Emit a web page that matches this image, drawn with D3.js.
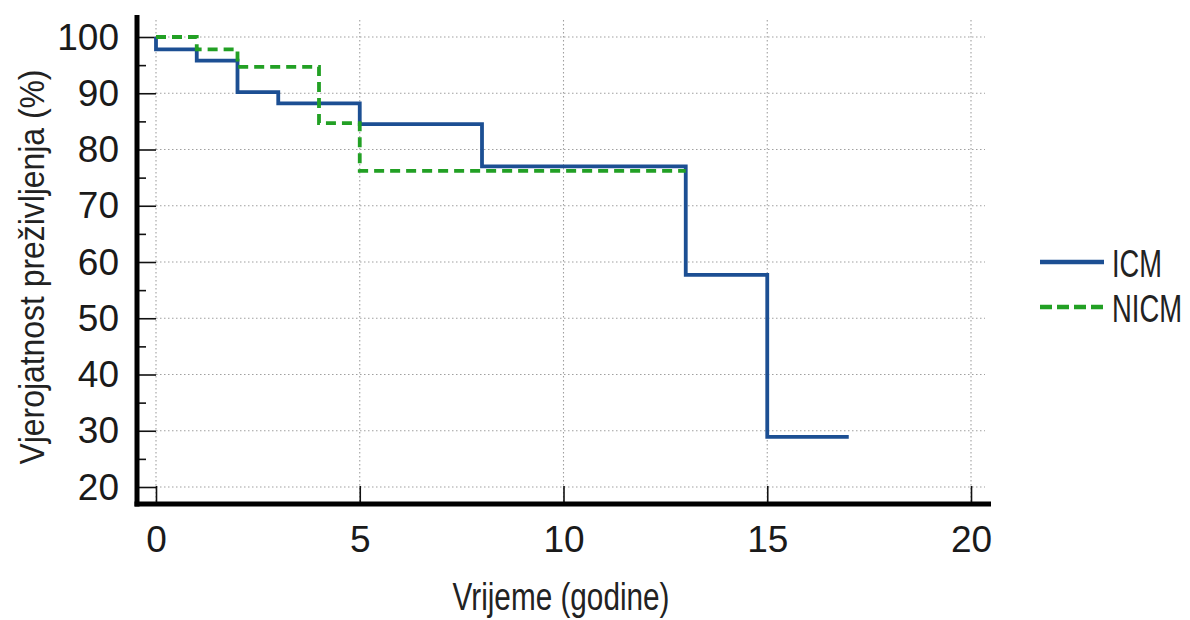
<!DOCTYPE html>
<html>
<head>
<meta charset="utf-8">
<script src="https://cdn.jsdelivr.net/npm/d3@7"></script>
<style>
  html, body { margin: 0; padding: 0; background: #fff; }
  svg { display: block; font-family: "Liberation Sans", Arial, sans-serif; }
</style>
</head>
<body>
<svg id="chart" width="1190" height="620"></svg>
<script>
// ---- data ----
const icmTimes = [0, 0, 1, 2, 3, 5, 8, 13, 15, 17];
const icmSurvival = [100, 97.8, 95.8, 90.2, 88.2, 84.5, 77.0, 57.7, 28.9, 28.9];
const nicmTimes = [0, 1, 2, 4, 5, 13];
const nicmSurvival = [100, 97.8, 94.7, 84.7, 76.2, 76.2];
const xTicks = [0, 5, 10, 15, 20];
const yTicks = [20, 30, 40, 50, 60, 70, 80, 90, 100];
const yMinorTicks = [25, 35, 45, 55, 65, 75, 85, 95];
const seriesNames = ["ICM", "NICM"];
const xTitle = "Vrijeme (godine)";
const yTitle = "Vjerojatnost preživljenja (%)";

// ---- layout ----
const svg = d3.select("#chart");
const x = d3.scaleLinear().domain([0, 20]).range([156, 971]);
const y = d3.scaleLinear().domain([20, 100]).range([487, 37]);
const axisX0 = 137, axisY0 = 504, plotTop = 15, plotRight = 991;
const blue = "#1c4f93", green = "#22a024";

// grid
const grid = svg.append("g").attr("stroke", "#a0a0a0").attr("stroke-width", 1.1)
  .attr("stroke-dasharray", "1.5,2.5");
grid.selectAll("line.h").data(yTicks).join("line").attr("class", "h")
  .attr("x1", x(0)).attr("x2", 985).attr("y1", d => y(d)).attr("y2", d => y(d));
grid.selectAll("line.v").data(xTicks).join("line").attr("class", "v")
  .attr("x1", d => x(d)).attr("x2", d => x(d)).attr("y1", 20).attr("y2", axisY0);

// y ticks (inward)
const yMaj = svg.append("g").attr("transform", `translate(${axisX0},0)`)
  .call(d3.axisRight(y).tickValues(yTicks).tickSize(x(0) - axisX0).tickFormat(""));
const yMin = svg.append("g").attr("transform", `translate(${axisX0},0)`)
  .call(d3.axisRight(y).tickValues(yMinorTicks).tickSize(9).tickFormat(""));
const yLab = svg.append("g").attr("transform", `translate(${axisX0},0)`)
  .call(d3.axisLeft(y).tickValues(yTicks).tickSize(0).tickPadding(18));
// x ticks (inward)
const xMaj = svg.append("g").attr("transform", `translate(0,${axisY0})`)
  .call(d3.axisTop(x).tickValues(xTicks).tickSize(18).tickFormat(""));
const xLab = svg.append("g").attr("transform", `translate(0,${axisY0})`)
  .call(d3.axisBottom(x).tickValues(xTicks).tickSize(0).tickPadding(22));

[yMaj, yMin, yLab, xMaj, xLab].forEach(g => {
  g.select(".domain").remove();
  g.selectAll(".tick line").attr("stroke", "#111").attr("stroke-width", 1.6);
});
yLab.selectAll("text").attr("font-size", 37).attr("fill", "#1a1a1a")
  .attr("font-family", "Liberation Sans, Arial, sans-serif").attr("dy", "0.33em");
xLab.selectAll("text").attr("font-size", 37).attr("fill", "#1a1a1a")
  .attr("font-family", "Liberation Sans, Arial, sans-serif").attr("dy", "0.7em");

// axis lines
svg.append("line").attr("x1", axisX0).attr("x2", axisX0).attr("y1", plotTop).attr("y2", axisY0 + 2.5)
  .attr("stroke", "#000").attr("stroke-width", 5);
svg.append("line").attr("x1", axisX0 - 2.5).attr("x2", plotRight).attr("y1", axisY0).attr("y2", axisY0)
  .attr("stroke", "#000").attr("stroke-width", 5);

// survival curves
const line = d3.line().x(d => x(d[0])).y(d => y(d[1])).curve(d3.curveStepAfter);
const nicmData = nicmTimes.map((t, i) => [t, nicmSurvival[i]]);
const icmData = icmTimes.map((t, i) => [t, icmSurvival[i]]);
svg.append("path").datum(icmData).attr("d", line).attr("fill", "none")
  .attr("stroke", blue).attr("stroke-width", 3.8);
svg.append("path").datum(nicmData).attr("d", line).attr("fill", "none")
  .attr("stroke", green).attr("stroke-width", 3.8).attr("stroke-dasharray", "10,6");

// condensed text helper: fit text to a target width via horizontal scale
function narrowText(parent, txt, size, width, anchor, tx, ty, rot) {
  const g = parent.append("g");
  const t = g.append("text").attr("font-size", size).attr("fill", "#222")
    .attr("text-anchor", anchor).text(txt);
  const natural = t.node().getComputedTextLength();
  const s = width / natural;
  g.attr("transform", `translate(${tx},${ty})` + (rot ? ` rotate(${rot})` : "") + ` scale(${s},1)`);
  return g;
}

// axis titles
narrowText(svg, xTitle, 38, 217, "middle", 561, 610, 0);
narrowText(svg, yTitle, 35, 395, "middle", 44, 267, -90);

// legend
const legY = [262, 307];
const legW = [50, 70];
const leg = svg.append("g");
seriesNames.forEach((name, i) => {
  leg.append("line").attr("x1", 1040).attr("x2", 1104).attr("y1", legY[i]).attr("y2", legY[i])
    .attr("stroke", i === 0 ? blue : green).attr("stroke-width", 4.5)
    .attr("stroke-dasharray", i === 0 ? null : "12,5");
  narrowText(leg, name, 38, legW[i], "start", 1112, legY[i] + 15, 0);
});
</script>
</body>
</html>
